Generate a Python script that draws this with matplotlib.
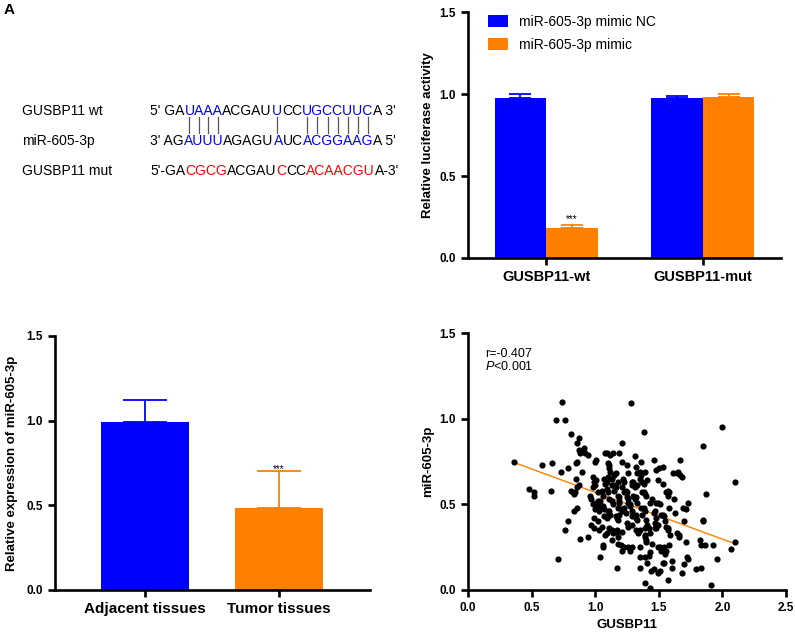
import matplotlib
matplotlib.use('Agg')
import matplotlib.pyplot as plt
import numpy as np

plt.rcParams['font.family'] = ['Liberation Sans', 'DejaVu Sans']
plt.rcParams['mathtext.fontset'] = 'custom'
plt.rcParams['mathtext.it'] = 'Liberation Sans:italic'
plt.rcParams['mathtext.rm'] = 'Liberation Sans'

BLUE = '#0000ff'
ORANGE = '#ff8000'
RED = '#ff0000'

# sequence panel
row_labels = ['GUSBP11 wt', 'miR-605-3p', 'GUSBP11 mut']
row_parts = [
    [("5' GA", 'k'), ('UAAA', BLUE), ('ACGAU', 'k'), ('U', BLUE), ('CC', 'k'),
     ('UGCCUUC', BLUE), ("A 3'", 'k')],
    [("3' AG", 'k'), ('AUUU', BLUE), ('AGAGU', 'k'), ('A', BLUE), ('UC', 'k'),
     ('ACGGAAG', BLUE), ("A 5'", 'k')],
    [("5'-GA", 'k'), ('CGCG', RED), ('ACGAU', 'k'), ('C', RED), ('CC', 'k'),
     ('ACAACGU', RED), ("A-3'", 'k')],
]

# luciferase
luc_groups = ['GUSBP11-wt', 'GUSBP11-mut']
luc_nc = [0.975, 0.975]
luc_nc_err = [0.025, 0.015]
luc_mimic = [0.18, 0.98]
luc_mimic_err = [0.02, 0.02]

# expression
expr_groups = ['Adjacent tissues', 'Tumor tissues']
expr_mean = [0.99, 0.485]
expr_err = [0.135, 0.215]

# correlation
gusbp11 = [0.36, 0.48, 0.52, 0.52, 0.58, 0.65, 0.66, 0.69, 0.71, 0.73, 0.74, 0.76, 0.76, 0.79, 0.79,
           0.81, 0.81, 0.83, 0.83, 0.85, 0.85, 0.86, 0.86, 0.87, 0.87, 0.86, 0.87, 0.88, 0.89, 0.91,
           0.88, 0.86, 0.90, 0.92, 0.94, 0.94, 0.96, 0.97, 0.97, 0.99, 0.99, 1.00, 1.01, 1.00, 1.01,
           1.01, 1.02, 1.03, 1.03, 1.03, 1.04, 1.05, 1.06, 1.06, 1.07, 1.08, 1.08, 1.09, 1.08, 1.09,
           1.10, 1.11, 1.12, 1.12, 1.13, 1.13, 1.10, 1.12, 1.13, 1.14, 1.13, 1.14, 1.14, 1.15, 1.16,
           1.15, 1.16, 1.16, 1.17, 1.17, 1.17, 1.18, 1.19, 1.19, 1.20, 1.21, 1.21, 1.21, 1.22, 1.23,
           1.21, 1.23, 1.24, 1.24, 1.25, 1.26, 1.27, 1.25, 1.26, 1.26, 1.27, 1.28, 1.29, 1.30, 1.30,
           1.31, 1.31, 1.32, 1.33, 1.34, 1.35, 1.35, 1.36, 1.36, 1.37, 1.38, 1.38, 1.39, 1.38, 1.38,
           1.39, 1.40, 1.39, 1.39, 1.41, 1.42, 1.41, 1.42, 1.43, 1.43, 1.44, 1.46, 1.45, 1.46, 1.46,
           1.47, 1.48, 1.48, 1.50, 1.49, 1.49, 1.51, 1.49, 1.51, 1.51, 1.52, 1.53, 1.53, 1.54, 1.55,
           1.56, 1.56, 1.57, 1.57, 1.58, 1.57, 1.58, 1.58, 1.59, 1.60, 1.60, 1.62, 1.63, 1.64, 1.65,
           1.66, 1.67, 1.68, 1.67, 1.68, 1.69, 1.71, 1.70, 1.71, 1.72, 1.73, 1.73, 1.79, 1.83, 1.82,
           1.83, 1.86, 1.85, 1.85, 1.85, 1.87, 1.91, 1.93, 1.96, 2.00, 2.07, 2.10, 2.10,
           1.09, 1.19, 1.11, 1.25, 1.32, 1.53, 1.33, 1.39, 1.26, 1.61, 1.10, 1.09, 1.18, 1.14, 1.35,
           1.29, 1.33, 1.31, 1.21, 1.23, 1.40, 1.37, 1.56, 1.57, 1.18, 1.19, 1.25, 1.26, 1.10, 1.11,
           1.32, 1.33, 1.43, 1.48, 1.18, 1.21, 1.19, 1.27, 1.29, 1.36, 1.37, 1.07, 1.11, 1.10, 1.47,
           1.52, 1.54, 1.29, 1.32,
           1.09, 1.18, 1.40, 1.48, 1.55, 1.11, 1.17, 1.21, 1.29, 1.32, 1.39, 1.43, 1.39, 1.47, 1.49,
           1.57, 1.64, 1.13, 1.18, 1.23, 1.29, 1.35, 1.40, 1.45, 1.49, 1.54, 1.66, 1.35, 1.39, 1.41,
           1.53, 1.35, 1.70,
           0.84, 0.98, 1.02, 0.98, 1.04, 1.00, 1.06, 0.98, 1.07, 1.06, 0.99, 1.02, 1.05]
mir605 = [0.75, 0.59, 0.57, 0.55, 0.73, 0.58, 0.74, 0.99, 0.18, 0.69, 1.10, 0.99, 0.35, 0.71, 0.40,
          0.91, 0.58, 0.56, 0.46, 0.74, 0.65, 0.75, 0.86, 0.89, 0.61, 0.60, 0.82, 0.80, 0.81, 0.83,
          0.30, 0.48, 0.69, 0.80, 0.79, 0.31, 0.55, 0.53, 0.38, 0.36, 0.63, 0.61, 0.64, 0.75, 0.76,
          0.51, 0.52, 0.49, 0.46, 0.35, 0.19, 0.58, 0.55, 0.26, 0.43, 0.80, 0.62, 0.59, 0.32, 0.33,
          0.74, 0.71, 0.69, 0.79, 0.65, 0.61, 0.46, 0.44, 0.52, 0.50, 0.35, 0.33, 0.80, 0.67, 0.68,
          0.58, 0.60, 0.43, 0.42, 0.13, 0.34, 0.31, 0.54, 0.51, 0.26, 0.23, 0.86, 0.75, 0.65, 0.63,
          0.47, 0.48, 0.45, 0.58, 0.57, 0.53, 0.50, 0.39, 0.37, 0.25, 0.23, 1.09, 0.61, 0.63, 0.55,
          0.53, 0.78, 0.44, 0.41, 0.33, 0.35, 0.69, 0.67, 0.75, 0.63, 0.62, 0.57, 0.56, 0.92, 0.48,
          0.46, 0.28, 0.31, 0.04, 0.38, 0.36, 0.64, 0.20, 0.01, 0.22, 0.11, 0.12, 0.53, 0.45, 0.76,
          0.39, 0.36, 0.70, 0.71, 0.64, 0.51, 0.50, 0.10, 0.11, 0.25, 0.23, 0.44, 0.62, 0.16, 0.21,
          0.23, 0.37, 0.35, 0.58, 0.57, 0.06, 0.48, 0.26, 0.32, 0.17, 0.13, 0.53, 0.45, 0.68, 0.69,
          0.32, 0.67, 0.66, 0.76, 0.10, 0.48, 0.47, 0.40, 0.28, 0.19, 0.18, 0.51, 0.12, 0.13, 0.29,
          0.26, 0.26, 0.84, 0.41, 0.40, 0.56, 0.03, 0.26, 0.18, 0.95, 0.24, 0.63, 0.28,
          0.80, 0.80, 0.73, 0.73, 0.72, 0.72, 0.68, 0.69, 0.68, 0.68, 0.66, 0.63, 0.63, 0.61, 0.65,
          0.63, 0.61, 0.60, 0.60, 0.57, 0.55, 0.57, 0.57, 0.55, 0.55, 0.52, 0.54, 0.51, 0.57, 0.53,
          0.54, 0.51, 0.51, 0.51, 0.48, 0.46, 0.44, 0.49, 0.46, 0.48, 0.44, 0.47, 0.46, 0.43, 0.46,
          0.44, 0.43, 0.43, 0.42,
          0.42, 0.41, 0.41, 0.42, 0.40, 0.36, 0.35, 0.34, 0.38, 0.35, 0.36, 0.33, 0.32, 0.36, 0.38,
          0.36, 0.33, 0.29, 0.27, 0.25, 0.25, 0.25, 0.29, 0.27, 0.25, 0.25, 0.31, 0.19, 0.19, 0.16,
          0.16, 0.13, 0.15,
          0.57, 0.60, 0.57, 0.50, 0.52, 0.47, 0.49, 0.66, 0.65, 0.25, 0.42, 0.40, 0.37]
fit_slope = -0.273
fit_intercept = 0.843
r_text = 'r=-0.407'


def style(ax):
    for s in ['top', 'right']:
        ax.spines[s].set_visible(False)
    for s in ['left', 'bottom']:
        ax.spines[s].set_linewidth(1.9)
    ax.tick_params(width=1.9, length=5, labelsize=8.5)
    for lab in ax.get_xticklabels() + ax.get_yticklabels():
        lab.set_fontweight('bold')


fig = plt.figure(figsize=(7.95, 6.34), dpi=100)

# ---- panel A: sequences (pixel coordinates)
ax0 = fig.add_axes([0, 0, 1, 1])
ax0.set_xlim(0, 795)
ax0.set_ylim(634, 0)
ax0.axis('off')
ax0.text(4, 10, 'A', fontsize=11, fontweight='bold', va='center')

fig.canvas.draw()
renderer = fig.canvas.get_renderer()
from matplotlib.font_manager import FontProperties
prop = FontProperties(family='Liberation Sans', size=10)


def adv(s):
    w1 = renderer.get_text_width_height_descent('H' + s + 'H', prop, ismath=False)[0]
    w0 = renderer.get_text_width_height_descent('HH', prop, ismath=False)[0]
    return w1 - w0


row_y = [111, 141, 171]
centers = []
for lab, parts, y in zip(row_labels, row_parts, row_y):
    ax0.text(22, y, lab, fontsize=10, va='center')
    x = 150
    cs = []
    for seg, col in parts:
        ax0.text(x, y, seg, fontsize=10, va='center', color=col)
        if col != 'k':
            for k, c in enumerate(seg):
                cs.append(x + adv(seg[:k]) + adv(c) / 2)
        x += adv(seg)
    centers.append(cs)
for cx in centers[0]:
    ax0.plot([cx, cx], [row_y[0] + 6, row_y[1] - 8], color='#555555', lw=0.9)

# ---- panel B: luciferase
ax1 = fig.add_axes([468 / 795, 1 - 258 / 634, 313 / 795, 246 / 634])
xpos = np.arange(len(luc_groups))
w = 0.33
ax1.bar(xpos - w / 2, luc_nc, w, color=BLUE, label='miR-605-3p mimic NC')
ax1.bar(xpos + w / 2, luc_mimic, w, color=ORANGE, label='miR-605-3p mimic')
ax1.errorbar(xpos - w / 2, luc_nc, yerr=[[0, 0], luc_nc_err], fmt='none', ecolor=BLUE,
             capsize=8, elinewidth=1.3, capthick=1.3)
ax1.errorbar(xpos + w / 2, luc_mimic, yerr=[[0, 0], luc_mimic_err], fmt='none', ecolor=ORANGE,
             capsize=8, elinewidth=1.3, capthick=1.3)
ax1.text(xpos[0] + w / 2, luc_mimic[0] + luc_mimic_err[0] + 0.005, '***', ha='center',
         va='bottom', fontsize=7)
ax1.set_xlim(-0.5, 1.5)
ax1.set_ylim(0, 1.5)
ax1.set_yticks([0, 0.5, 1.0, 1.5])
ax1.set_yticklabels(['0.0', '0.5', '1.0', '1.5'])
ax1.set_xticks(xpos)
ax1.set_xticklabels(luc_groups, fontsize=10.5)
ax1.set_ylabel('Relative luciferase activity', fontsize=9.5, fontweight='bold')
ax1.legend(loc='upper left', frameon=False, fontsize=10, handlelength=1.4, handleheight=0.9,
           borderaxespad=0.6, labelspacing=0.65, bbox_to_anchor=(0.02, 1.045))
style(ax1)
for lab in ax1.get_xticklabels():
    lab.set_fontsize(10.5)

# ---- panel C: expression
ax2 = fig.add_axes([55 / 795, 1 - 590 / 634, 315 / 795, 254 / 634])
xp = np.arange(len(expr_groups))
ax2.bar(xp, expr_mean, 0.66, color=[BLUE, ORANGE])
for i in range(len(xp)):
    ax2.errorbar(xp[i], expr_mean[i], yerr=[[0], [expr_err[i]]], fmt='none',
                 ecolor=[BLUE, ORANGE][i], capsize=16, elinewidth=1.3, capthick=1.3)
ax2.text(xp[1], expr_mean[1] + expr_err[1] - 0.015, '***', ha='center', va='bottom', fontsize=7)
ax2.set_xlim(-0.67, 1.68)
ax2.set_ylim(0, 1.5)
ax2.set_yticks([0, 0.5, 1.0, 1.5])
ax2.set_yticklabels(['0.0', '0.5', '1.0', '1.5'])
ax2.set_xticks(xp)
ax2.set_xticklabels(expr_groups)
ax2.set_ylabel('Relative expression of miR-605-3p', fontsize=9.5, fontweight='bold',
               labelpad=6)
style(ax2)
for lab in ax2.get_xticklabels():
    lab.set_fontsize(11)

# ---- panel D: correlation
ax3 = fig.add_axes([468 / 795, 1 - 590 / 634, 318 / 795, 257 / 634])
ax3.scatter(gusbp11, mir605, s=20, color='k', linewidths=0, zorder=3)
xf = np.array([min(gusbp11), max(gusbp11)])
ax3.plot(xf, fit_slope * xf + fit_intercept, color=ORANGE, lw=1.0, zorder=2)
ax3.text(0.055, 0.918, r_text, transform=ax3.transAxes, fontsize=9, va='center')
ax3.text(0.055, 0.868, r'$\it{P}$<0.001', transform=ax3.transAxes, fontsize=9, va='center')
ax3.set_xlim(0, 2.5)
ax3.set_ylim(0, 1.5)
ax3.set_xticks([0, 0.5, 1.0, 1.5, 2.0, 2.5])
ax3.set_xticklabels(['0.0', '0.5', '1.0', '1.5', '2.0', '2.5'])
ax3.set_yticks([0, 0.5, 1.0, 1.5])
ax3.set_yticklabels(['0.0', '0.5', '1.0', '1.5'])
ax3.set_xlabel('GUSBP11', fontsize=9.5, fontweight='bold')
ax3.set_ylabel('miR-605-3p', fontsize=9.5, fontweight='bold')
style(ax3)

fig.savefig('out.png', dpi=100)
